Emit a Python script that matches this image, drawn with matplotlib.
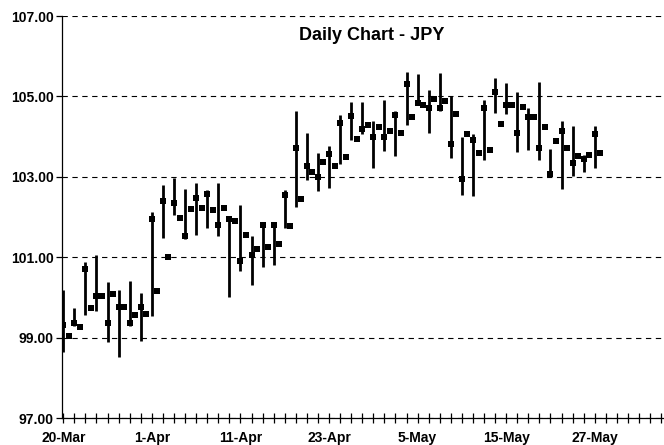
import numpy as np
import matplotlib
matplotlib.use("Agg")
import matplotlib.pyplot as plt
from matplotlib.ticker import FixedLocator, FixedFormatter

plt.rcParams['font.family'] = ['Liberation Sans', 'DejaVu Sans']
plt.rcParams['font.weight'] = 'bold'

# high / low only on the bar days (None = marker only)
high = [100.18, None, 99.75, None, 100.89, None, 101.05, None, 100.38, None,
        100.18, None, 100.41, None, 100.12, None, 102.12, None, 102.80, None,
        102.97, None, 102.70, None, 102.86, None, 102.68, None, 102.86, None,
        102.01, None, 102.30, None, 101.52, None, 101.85, None, 101.87, None,
        102.68, None, 104.64, None, 104.09, None, 103.59, None, 103.76, None,
        104.54, None, 104.86, None, 104.86, None, 104.40, None, 104.92, None,
        104.63, None, 105.61, None, 105.56, None, 105.15, None, 105.58, None,
        105.00, None, 103.99, None, 104.07, None, 104.92, None, 105.46, None,
        105.33, None, 105.10, None, 104.71, None, 105.37, None, 103.69, None,
        104.40, None, 104.27, None, 103.55, None, 104.27, None]
low = [98.65, None, 99.29, None, 99.56, None, 99.66, None, 98.90, None,
       98.52, None, 99.29, None, 98.92, None, 99.55, None, 101.47, None,
       102.05, None, 101.46, None, 101.56, None, 101.74, None, 101.52, None,
       100.02, None, 100.65, None, 100.32, None, 100.76, None, 100.81, None,
       101.73, None, 102.26, None, 102.93, None, 102.66, None, 102.72, None,
       103.33, None, 103.92, None, 104.07, None, 103.23, None, 103.65, None,
       103.51, None, 104.30, None, 104.79, None, 104.09, None, 104.63, None,
       103.47, None, 102.55, None, 102.53, None, 103.43, None, 104.59, None,
       104.57, None, 103.61, None, 103.66, None, 103.43, None, 103.01, None,
       102.70, None, 103.03, None, 103.12, None, 103.23, None]
close = [99.31, 99.05, 99.36, 99.26, 100.72, 99.75, 100.04, 100.04, 99.36, 100.08,
         99.76, 99.76, 99.36, 99.58, 99.76, 99.60, 101.95, 100.17, 102.41, 101.01,
         102.35, 101.97, 101.53, 102.20, 102.47, 102.22, 102.58, 102.18, 101.81, 102.23,
         101.95, 101.91, 100.92, 101.56, 101.06, 101.20, 101.81, 101.25, 101.81, 101.33,
         102.56, 101.77, 103.73, 102.45, 103.26, 103.11, 102.99, 103.36, 103.57, 103.28,
         104.34, 103.49, 104.52, 103.95, 104.19, 104.30, 103.98, 104.23, 103.98, 104.15,
         104.53, 104.09, 105.32, 104.49, 104.84, 104.78, 104.71, 104.94, 104.71, 104.89,
         103.82, 104.57, 102.95, 104.07, 103.92, 103.59, 104.71, 103.67, 105.10, 104.31,
         104.78, 104.78, 104.10, 104.75, 104.49, 104.49, 103.72, 104.24, 103.08, 103.90,
         104.13, 103.72, 103.34, 103.52, 103.45, 103.55, 104.07, 103.59]

date_labels = ['20-Mar', '1-Apr', '11-Apr', '23-Apr', '5-May', '15-May', '27-May']
y_ticks = [97, 99, 101, 103, 105, 107]

x = np.arange(len(close))
hi = np.array([np.nan if v is None else v for v in high])
lo = np.array([np.nan if v is None else v for v in low])
bar = ~np.isnan(hi)

fig = plt.figure(figsize=(6.64, 4.45), dpi=100)
ax = fig.add_axes([62 / 664, 1 - 418.3 / 445, 1 - 62 / 664, (418.3 - 16) / 445])

ax.vlines(x[bar], lo[bar], hi[bar], color='black', linewidth=2.0, zorder=3)
ax.plot(x, close, linestyle='none', marker='s', markersize=4.0,
        markeredgewidth=0, color='black', zorder=4)

ax.set_xlim(-0.23, 108.5)
ax.set_ylim(97, 107)

ax.yaxis.set_major_locator(FixedLocator(y_ticks))
ax.yaxis.set_major_formatter(plt.FuncFormatter(lambda v, p: '%.2f' % v))
ax.grid(axis='y', color='black', linewidth=0.8, dashes=(4.8, 4.1))
ax.set_axisbelow(True)

ax.xaxis.set_major_locator(FixedLocator(np.arange(0, 97, 16)))
ax.xaxis.set_major_formatter(FixedFormatter(date_labels))
ax.xaxis.set_minor_locator(FixedLocator(np.arange(0, 110, 2)))

for s in ['top', 'right']:
    ax.spines[s].set_visible(False)
for s in ['left', 'bottom']:
    ax.spines[s].set_linewidth(0.9)

ax.tick_params(axis='y', direction='out', length=4, width=0.9, pad=2, labelsize=10)
ax.tick_params(axis='x', which='both', direction='inout', length=7, width=0.9,
               pad=6, labelsize=10)

fig.text(0.56, 1 - 35 / 445, 'Daily Chart - JPY', ha='center', va='center',
         fontsize=13, fontweight='bold')

fig.savefig('out.png', dpi=100)
